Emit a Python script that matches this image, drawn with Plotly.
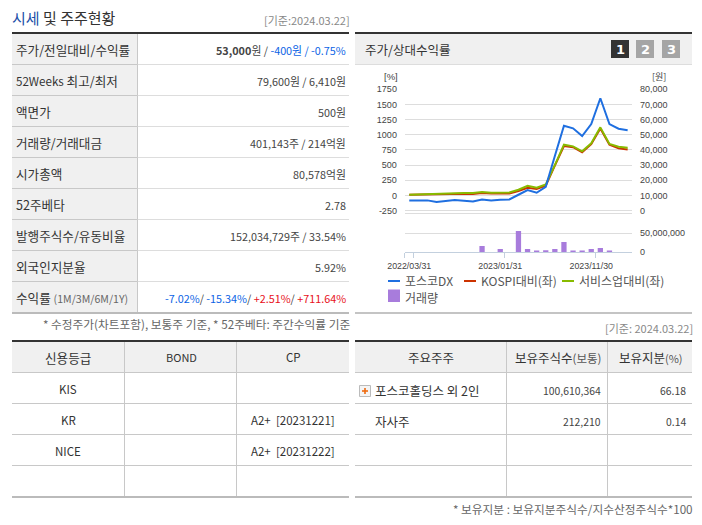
import plotly.graph_objects as go

W, H = 702, 525
FONT = "Noto Sans CJK KR"
TICKFONT = "Liberation Sans, " + FONT

# ---------- chart data ----------
months = ["2022/03/31", "2022/04/30", "2022/05/31", "2022/06/30", "2022/07/31", "2022/08/31", "2022/09/30",
          "2022/10/31", "2022/11/30", "2022/12/31", "2023/01/31", "2023/02/28", "2023/03/31", "2023/04/30",
          "2023/05/31", "2023/06/30", "2023/07/31", "2023/08/31", "2023/09/30", "2023/10/31", "2023/11/30",
          "2023/12/31", "2024/01/31", "2024/02/29", "2024/03/22"]
price = [6680, 6680, 6680, 5560, 6000, 6880, 6440, 6000, 7320, 6680, 7120, 7320, 10400, 13480, 11720, 15640,
         35960, 55960, 54240, 49160, 57080, 74080, 57080, 54000, 53000]
kospi_rel = [10, 13, 16, 14, 16, 30, 27, 22, 38, 32, 32, 32, 71, 126, 104, 159, 490, 815, 795, 712, 845, 1105,
             835, 775, 755]
sector_rel = [10, 16, 22, 22, 27, 38, 38, 38, 55, 43, 43, 49, 93, 159, 126, 181, 500, 836, 809, 726, 858, 1122,
              847, 803, 786]
volume = [0, 0, 0, 0, 0, 0, 0, 0, 16e6, 0, 8e6, 0, 56e6, 8e6, 2.5e6, 5e6, 8e6, 27e6, 2.5e6, 2.5e6, 8e6, 11e6,
          2.5e6, 0, 0]
left_ticks = [-250, 0, 250, 500, 750, 1000, 1250, 1500, 1750]
right_ticks = [0, 10000, 20000, 30000, 40000, 50000, 60000, 70000, 80000]
vol_ticks = [0, 50000000]
date_ticks = ["2022/03/31", "2023/01/31", "2023/11/30"]
series_names = ["포스코DX", "KOSPI대비(좌)", "서비스업대비(좌)", "거래량"]

# ---------- table texts ----------
BLUE_T, RED_T = "#0b63e5", "#e8101a"
def c(t, col):
    return f'<span style="color:{col}">{t}</span>'
info_labels = ["주가/전일대비/수익률", '<span style="font-size:11.6px">52Weeks</span> 최고/최저', "액면가", "거래량/거래대금",
               "시가총액", "52주베타", "발행주식수/유동비율", "외국인지분율",
               '수익률 <span style="font-size:10.6px;color:#666">(1M/3M/6M/1Y)</span>']
info_values = ["<b>53,000</b>원 / " + c("-400원 / -0.75%", BLUE_T), "79,600원 / 6,410원", "500원",
               "401,143주 / 214억원", "80,578억원", "2.78", "152,034,729주 / 33.54%", "5.92%",
               c("-7.02%", BLUE_T) + "/ " + c("-15.34%", BLUE_T) + "/ " + c("+2.51%", RED_T) + "/ " + c("+711.64%", RED_T)]
credit_head = ["신용등급", "BOND", "CP"]
credit_rows = [["KIS", "", ""], ["KR", "", "A2+  [20231221]"], ["NICE", "", "A2+  [20231222]"]]
holder_head = ['주요주주', '보유주식수<span style="font-size:11.5px;color:#555">(보통)</span>',
               '보유지분<span style="font-size:11px;color:#555">(%)</span>']
holder_rows = [["포스코홀딩스 외 2인", "100,610,364", "66.18"], ["자사주", "212,210", "0.14"]]

# ---------- helpers ----------
px = lambda v: v / W
py = lambda v: 1 - v / H
shapes, annos = [], []
def rect(x0, y0, x1, y1, fill, layer="below"):
    shapes.append(dict(type="rect", xref="paper", yref="paper", x0=px(x0), x1=px(x1), y0=py(y0), y1=py(y1),
                       fillcolor=fill, line_width=0, layer=layer))
def hline(x0, x1, y, col, w=1):
    shapes.append(dict(type="line", xref="paper", yref="paper", x0=px(x0), x1=px(x1), y0=py(y), y1=py(y),
                       line=dict(color=col, width=w), layer="below"))
def vline(x, y0, y1, col, w=1):
    shapes.append(dict(type="line", xref="paper", yref="paper", x0=px(x), x1=px(x), y0=py(y0), y1=py(y1),
                       line=dict(color=col, width=w), layer="below"))
def text(x, y, t, anchor="left", size=12, col="#333333", font=FONT):
    nudge = {"left": -1, "right": 1.5, "center": 0}[anchor]
    annos.append(dict(xref="paper", yref="paper", x=px(x + nudge), y=py(y), text=t, showarrow=False, xanchor=anchor,
                      yanchor="middle", borderpad=0, font=dict(family=font, size=size, color=col)))

LINE, LINE2, HEAD = "#c8c8c8", "#dddddd", "#f0f0f0"

# ---- top-left table ----
text(12, 18, c("시세", "#1b4fa8") + " 및 주주현황", size=15, col="#333333")
text(349, 20, "[기준:2024.03.22]", "right", 11, "#888888")
rect(12, 32, 349, 34, "#333333")
rect(12, 34, 137.5, 312, HEAD)
vline(137.5, 34, 312, LINE)
for i in range(8):
    y = 64.5 + 31 * i
    hline(137.5, 349, y, LINE2)
    hline(12, 137.5, y, LINE)
rect(12, 312, 349, 314, "#bbbbbb")
for i, (a, b) in enumerate(zip(info_labels, info_values)):
    y = 49.5 + 31 * i
    text(16, y, a, size=12.6, col="#333333")
    text(345, y + 0.5, b, "right", size=10.8, col="#444444")
text(349, 323, "* 수정주가(차트포함), 보통주 기준, * 52주베타: 주간수익률 기준", "right", 11.7, "#666666")

# ---- credit table ----
rect(12, 340, 349, 342, "#333333")
rect(12, 342, 349, 372, HEAD)
vline(124.5, 342, 497, LINE)
vline(236.5, 342, 497, LINE)
for y in (372.5, 403.5, 434.5, 465.5):
    hline(12, 349, y, LINE)
rect(12, 496, 349, 498, "#bbbbbb")
cx = [68, 181, 293]
for x, t, s in zip(cx, credit_head, [12.6, 11, 11.5]):
    text(x, 357, t, "center", s)
for i, row in enumerate(credit_rows):
    for x, t in zip(cx, row):
        if t:
            text(x, 389 + 31 * i, t, "center", 11.5)

# ---- holders table ----
rect(355, 340, 692, 342, "#333333")
rect(355, 342, 692, 372, HEAD)
vline(506.5, 342, 497, LINE)
vline(607.5, 342, 497, LINE)
for y in (372.5, 403.5, 434.5, 465.5):
    hline(355, 692, y, LINE)
rect(355, 496, 692, 498, "#bbbbbb")
for x, t in zip([431, 558, 651], holder_head):
    text(x, 357, t, "center", 12.5)
for i, row in enumerate(holder_rows):
    y = 390 + 31 * i
    text(375, y, row[0], size=12.5)
    text(600, y, row[1], "right", 10.4, "#444444")
    text(685, y, row[2], "right", 10.4, "#444444")
shapes.append(dict(type="rect", xref="paper", yref="paper", x0=px(359.5), x1=px(370.5), y0=py(385.5), y1=py(396.5),
                   fillcolor="#f4f4f4", line=dict(color="#bbbbbb", width=1)))
rect(362, 390.2, 368, 391.8, "#ee6a10", "above")
rect(364.2, 388, 365.8, 394, "#ee6a10", "above")
text(692, 508, "* 보유지분 : 보유지분주식수/지수산정주식수*100", "right", 11.7, "#666666")

# ---- chart panel chrome ----
rect(355, 32, 692, 34, "#333333")
rect(355, 34, 692, 64, HEAD)
hline(355, 692, 64.5, LINE2)
text(365, 49, "주가/상대수익률", size=12.5)
for x0, n, col in [(611, "1", "#333333"), (636, "2", "#a5a5a5"), (662, "3", "#a5a5a5")]:
    shapes.append(dict(type="rect", xref="paper", yref="paper", x0=px(x0), x1=px(x0 + 18), y0=py(40), y1=py(58),
                       fillcolor=col, line_width=0))
    text(x0 + 9, 49, f"<b>{n}</b>", "center", 13, "#ffffff", "DejaVu Sans")
text(397, 76.5, "[%]", "right", 9.5, "#444444", TICKFONT)
text(659, 76, "[원]", "center", 9, "#444444", FONT)
rect(355, 312, 692, 314, "#c4c4c4")
text(692, 328, "[기준: 2024.03.22]", "right", 11, "#888888")

# ---- custom legend ----
LEG = [(388, 405, 0, "#1f6fe0"), (464, 481, 1, "#cc3300"), (562, 579, 2, "#88bb00")]
for x0, xt, i, col in LEG:
    hline(x0, x0 + 12, 281, col, 2)
    text(xt, 280.5, series_names[i], size=12, col="#555555")
rect(388, 289.5, 400, 302, "#a87cdc")
text(405, 297, series_names[3], size=12, col="#555555")

# ---------- traces ----------
fig = go.Figure()
X0, X1 = px(404.7), px(632.2)
fig.add_trace(go.Bar(x=months, y=volume, name=series_names[3], xaxis="x2", yaxis="y3", marker=dict(color="#a87cdc", line_width=0)))
fig.add_trace(go.Scatter(x=months, y=kospi_rel, name=series_names[1], mode="lines", xaxis="x", yaxis="y",
                         line=dict(color="#cc3300", width=2)))
fig.add_trace(go.Scatter(x=months, y=sector_rel, name=series_names[2], mode="lines", xaxis="x", yaxis="y",
                         line=dict(color="#88bb00", width=2)))
fig.add_trace(go.Scatter(x=months, y=price, name=series_names[0], mode="lines", xaxis="x", yaxis="y2",
                         line=dict(color="#1f6fe0", width=2)))
# carrier for the tick-mark axis under the volume pane
fig.add_trace(go.Scatter(x=[0], y=[None], xaxis="x3", yaxis="y3", mode="lines", hoverinfo="skip"))

tick_font = dict(family=TICKFONT, size=9, color="#444444")
date_font = dict(family=TICKFONT, size=8.8, color="#444444")
cat_range = [-0.5, len(months) - 0.5]
left_range = [-296, 1750]
right_range = [(left_range[0] + 250) * 40, 80000]

fig.update_layout(
    width=W, height=H, margin=dict(l=0, r=0, t=0, b=0, pad=0, autoexpand=False), paper_bgcolor="white", plot_bgcolor="white",
    showlegend=False, bargap=0.42, shapes=shapes, annotations=annos, font=dict(family=FONT),
    xaxis=dict(type="category", categoryorder="array", categoryarray=months, domain=[X0, X1], range=cat_range, automargin=False,
               anchor="y", showgrid=False, showticklabels=False, ticks="", showline=True, linecolor="#dddddd", zeroline=False),
    yaxis=dict(domain=[py(213.3), py(89.3)], range=left_range, tickmode="array", tickvals=left_ticks, automargin=False,
               ticktext=[str(v) for v in left_ticks], showgrid=True, gridcolor="#dddddd", gridwidth=1, zeroline=False,
               showline=False, ticks="outside", ticklen=5, tickcolor="rgba(0,0,0,0)", tickfont=tick_font, anchor="x"),
    yaxis2=dict(overlaying="y", side="right", anchor="x", range=right_range, tickmode="array", tickvals=right_ticks, automargin=False,
                ticktext=[f"{v:,}" for v in right_ticks], showgrid=False, zeroline=False, showline=False,
                ticks="outside", ticklen=5, tickcolor="rgba(0,0,0,0)", tickfont=tick_font),
    xaxis2=dict(type="category", categoryorder="array", categoryarray=months, domain=[X0, X1], range=cat_range, automargin=False,
                anchor="y3", showgrid=False, tickmode="array", tickvals=date_ticks, ticktext=date_ticks,
                ticks="outside", ticklen=5, tickcolor="rgba(0,0,0,0)", showline=True, linecolor="#c3d0de", linewidth=1,
                zeroline=False, tickangle=0, tickfont=date_font),
    xaxis3=dict(overlaying="x2", anchor="y3", range=cat_range, tickmode="array", automargin=False,
                tickvals=[-0.5, 0.5, 10.5, 20.5], showticklabels=False, ticks="outside", ticklen=5,
                tickcolor="#c3d0de", showgrid=False, zeroline=False, showline=False),
    yaxis3=dict(domain=[py(252), py(229.6)], range=[0, 60000000], side="right", anchor="x2", tickmode="array", automargin=False,
                tickvals=vol_ticks, ticktext=[f"{v:,}" for v in vol_ticks], showgrid=True, gridcolor="#dddddd",
                zeroline=False, showline=False, ticks="outside", ticklen=5, tickcolor="rgba(0,0,0,0)", tickfont=tick_font),
)

fig.write_html("out.html", config=dict(displayModeBar=False),
               post_script="document.body.style.margin='0';document.documentElement.style.overflow='hidden';")
